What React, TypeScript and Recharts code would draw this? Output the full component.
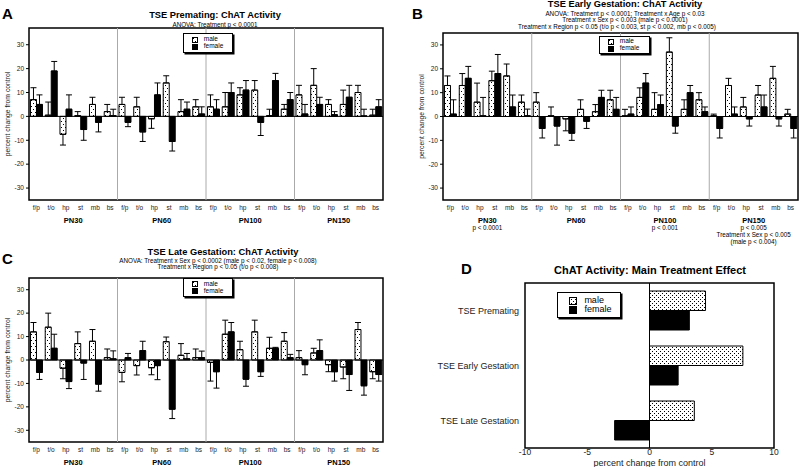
import React from 'react';
import { BarChart, Bar, XAxis, YAxis, ErrorBar, ReferenceLine, ReferenceArea } from 'recharts';

const regions = ['f/p', 't/o', 'hp', 'st', 'mb', 'bs'];
const ages = ['PN30', 'PN60', 'PN100', 'PN150'];
const ageCenters = [3, 9, 15, 21];
const ageBounds = [6, 12, 18];
const yTicks = [-30, -20, -10, 0, 10, 20, 30];

// A: premating (value, SE) per region x age
const premMale = [7, 0.5, -7.5, 0.3, 5, 2, 5, 4, -1, 14, 2, 4, 4, 4, 9, 11, 0.3, 3, 9, 13, 5, 5, 10, 0.5];
const premMaleSE = [5, 5.5, 4.5, 1.7, 3, 3, 3, 4, 4, 3, 5, 3, 5, 6, 3, 4, 2.7, 2, 4, 7, 2, 6, 3, 2.5];
const premFemale = [5, 19, 3, -5.5, -2.5, 0.3, -2.5, -6.5, 9, -10.5, 3, 1, 3, 10, 11, -2.5, 15, 7, 1, 5, 0.7, 8, 0.2, 4];
const premFemaleSE = [4, 4, 6, 4.5, 4, 2.7, 1.8, 4, 5, 4, 3, 3, 4, 4, 4, 5.5, 3, 3, 4, 3, 1.3, 5, 2.8, 3];

// B: early gestation
const earlyMale = [13, 13, 6, 15, 17, 6, 6, 0.3, -1, 3, 2, 7, 0.3, 8, 3, 27, 3, 7, 0.3, 13, 4, 9, 16, 1];
const earlyMaleSE = [4, 5, 8, 4, 5, 3, 4, 3.7, 5, 4, 3, 4, 2.7, 4, 7, 6, 4, 3, 0.7, 3, 4, 4, 5, 2];
const earlyFemale = [1, 16, 0.3, 18, 4, 0.3, -5, -4, -7, -2, 8, 3, 1, 14, 5, -4, 10, 2, -5, 1, -1, 4, -1, -5];
const earlyFemaleSE = [6, 5, 7.7, 8, 5, 2.8, 4, 8, 3, 3, 3, 5, 3, 4, 4, 3, 3, 2, 4, 3, 3, 5, 3, 4];
const earlyNotes = [['p < 0.0001'], [], ['p < 0.001'], ['p < 0.005', 'Treatment x Sex p < 0.005', '(male p < 0.004)']];

// C: late gestation
const lateMale = [12, 14, -3.5, 7, 8, 1, -5.3, -2.4, -3.3, 7.8, 2, 1, -1, 11, 4.4, 12, 5, 8, 1, 3, -2, -3, 13, -5];
const lateMaleSE = [4, 6, 4.5, 5, 5, 3.7, 4, 4, 3, 2, 5, 3.7, 8, 6, 3.6, 5, 4.7, 3.7, 3, 2, 3, 5, 3, 3];
const lateFemale = [-5.3, 5, -9.2, -1.3, -10.3, 0.5, 1, 4, -2.4, -21, 0.5, 1, -5, 12, -8.2, -5, 5, 1, -2, 4, -5, -6.2, -11, -6.2];
const lateFemaleSE = [3, 6, 3, 7, 3, 3.4, 1.8, 4, 6, 4, 2.3, 2.8, 7, 4, 3, 2, 0.4, 1.4, 4.3, 4.6, 4, 6.8, 4, 2.8];

// D: main treatment effect
const treatments = ['TSE Premating', 'TSE Early Gestation', 'TSE Late Gestation'];
const mainMale = [4.5, 7.5, 3.6];
const mainFemale = [3.2, 2.3, -2.8];
const mainTicks = [-10, -5, 0, 5, 10];

const FONT = 'Helvetica, Arial, "Liberation Sans", sans-serif';

const oneSided = (v: number, se: number) => (v >= 0 ? [0, se] : [se, 0]);

function buildRows(male: number[], maleSE: number[], female: number[], femaleSE: number[]) {
  return male.map((m, i) => ({
    idx: i,
    male: m,
    maleErr: oneSided(m, maleSE[i]),
    female: female[i],
    femaleErr: oneSided(female[i], femaleSE[i]),
  }));
}

const AgeTick = ({ x, y, payload, notes }: any) => {
  const i = ageCenters.indexOf(payload.value);
  const lines: string[] = notes ? notes[i] : [];
  return (
    <g>
      <text x={x} y={y + 10.5} textAnchor="middle" fontSize={7.5} fontWeight="bold" fill="#000">{ages[i]}</text>
      {lines.map((l, k) => (
        <text key={k} x={x} y={y + 18 + k * 7} textAnchor="middle" fontSize={6.3} fill="#000">{l}</text>
      ))}
    </g>
  );
};

const TreatTick = ({ x, y, payload }: any) => (
  <text x={x} y={y} dy="0.35em" textAnchor="end" fontSize={9} fill="#222">{payload.value}</text>
);

function SexLegend({ left, top, width, height, fill, sq, fontSize }: any) {
  const row = (f: string, label: string) => (
    <div style={{ display: 'flex', alignItems: 'center', height: sq + 1, lineHeight: 1 }}>
      <svg width={sq} height={sq} style={{ marginRight: sq * 0.9, display: 'block' }}>
        <rect x={0.5} y={0.5} width={sq - 1} height={sq - 1} fill={f} stroke="#000" strokeWidth={1} />
      </svg>
      <span style={{ fontSize }}>{label}</span>
    </div>
  );
  return (
    <div style={{
      position: 'absolute', left, top, width, height, background: '#fff', border: '1px solid #000',
      boxShadow: '1.5px 1.5px 0 #000', boxSizing: 'border-box', display: 'flex', flexDirection: 'column',
      justifyContent: 'center', paddingLeft: sq * 1.4,
    }}>
      {row(fill, 'male')}
      {row('#000', 'female')}
    </div>
  );
}

function Label({ left, top, width, text, size, bold }: any) {
  return (
    <div style={{ position: 'absolute', left, top, width, textAlign: 'center', fontSize: size, fontWeight: bold ? 'bold' : 'normal', lineHeight: 1, whiteSpace: 'nowrap' }}>
      {text}
    </div>
  );
}

function RegionPanel({ left, top, width, height, marginTop, marginRight, yWidth, domain, rows, notes, ageHeight }: any) {
  return (
    <div style={{ position: 'absolute', left, top }}>
      <BarChart width={width} height={height} data={rows} margin={{ top: marginTop, right: marginRight, left: 0, bottom: 0 }}
        barCategoryGap="10%" barGap={0}>
        <XAxis xAxisId="a1" dataKey="idx" type="category" interval={0} height={12}
          tickFormatter={(i: number) => regions[i % 6]} tick={{ fontSize: 6.5, fill: '#222' }}
          tickLine={false} axisLine={false} tickSize={3} tickMargin={2} />
        <XAxis xAxisId="z9" dataKey="idx" type="number" domain={[0, 24]} allowDataOverflow height={ageHeight}
          ticks={ageCenters} interval={0} tickLine={false} axisLine={false} tickSize={0} tickMargin={0}
          tick={(p: any) => <AgeTick {...p} notes={notes} />} />
        <YAxis domain={domain} ticks={yTicks} width={yWidth} tickSize={3} tickMargin={2} allowDataOverflow
          axisLine={false} tick={{ fontSize: 6.5, fill: '#222' }} tickLine={{ stroke: '#000' }}
          label={{ value: 'percent change from control', angle: -90, position: 'insideLeft', offset: yWidth - 21, style: { textAnchor: 'middle', fontSize: 6.8, fill: '#222' } }} />
        {ageBounds.map(b => (
          <ReferenceLine key={b} xAxisId="z9" x={b} stroke="#aaa" strokeWidth={1} />
        ))}
        <Bar xAxisId="a1" dataKey="male" fill="url(#dotsA)" stroke="#000" strokeWidth={1} isAnimationActive={false}>
          <ErrorBar dataKey="maleErr" width={3} stroke="#000" strokeWidth={1} direction="y" />
        </Bar>
        <Bar xAxisId="a1" dataKey="female" fill="#000" stroke="#000" strokeWidth={1} isAnimationActive={false}>
          <ErrorBar dataKey="femaleErr" width={3} stroke="#000" strokeWidth={1} direction="y" />
        </Bar>
        <ReferenceLine xAxisId="z9" y={0} stroke="#000" strokeWidth={1} />
        <ReferenceArea xAxisId="z9" x1={0} x2={24} fill="none" stroke="#000" strokeWidth={1.5} />
      </BarChart>
    </div>
  );
}

export default function App() {
  const rowsA = buildRows(premMale, premMaleSE, premFemale, premFemaleSE);
  const rowsB = buildRows(earlyMale, earlyMaleSE, earlyFemale, earlyFemaleSE);
  const rowsC = buildRows(lateMale, lateMaleSE, lateFemale, lateFemaleSE);
  const rowsD = treatments.map((t, i) => ({ name: t, male: mainMale[i], female: mainFemale[i] }));

  return (
    <div style={{ position: 'absolute', left: 0, top: 0, width: 800, height: 467, background: '#fff', fontFamily: FONT, color: '#000', overflow: 'hidden' }}>
      <svg width={0} height={0} style={{ position: 'absolute' }}>
        <defs>
          <pattern id="dotsA" width={4} height={6} patternUnits="userSpaceOnUse">
            <rect width={4} height={6} fill="#fff" />
            <rect x={1} y={1} width={1} height={1} fill="#000" />
            <rect x={3} y={4} width={1} height={1} fill="#000" />
          </pattern>
          <pattern id="dotsD" width={4} height={4} patternUnits="userSpaceOnUse">
            <rect width={4} height={4} fill="#fff" />
            <rect x={0} y={0} width={1} height={1} fill="#000" />
            <rect x={2} y={2} width={1} height={1} fill="#000" />
          </pattern>
        </defs>
      </svg>

      {/* A */}
      <div style={{ position: 'absolute', left: 2, top: 5, fontSize: 15, fontWeight: 'bold' }}>A</div>
      <Label left={115} top={11} width={200} text="TSE Premating:  ChAT Activity" size={9.3} bold />
      <Label left={115} top={22} width={200} text="ANOVA: Treatment p < 0.0001" size={6.3} />
      <RegionPanel left={0} top={0} width={400} height={235} marginTop={28} marginRight={17} yWidth={29} domain={[-35, 37]} rows={rowsA} ageHeight={23} />
      <SexLegend left={183} top={33} width={50} height={20} fill="url(#dotsA)" sq={6} fontSize={6.5} />

      {/* B */}
      <div style={{ position: 'absolute', left: 412, top: 5, fontSize: 15, fontWeight: 'bold' }}>B</div>
      <Label left={525} top={0} width={200} text="TSE Early Gestation:  ChAT Activity" size={9.3} bold />
      <Label left={525} top={10.5} width={200} text="ANOVA: Treatment p < 0.0001; Treatment x Age p < 0.03" size={6.3} />
      <Label left={525} top={17} width={200} text="Treatment x Sex p < 0.003 (male p < 0.0001)" size={6.3} />
      <Label left={517} top={24} width={200} text="Treatment x Region p < 0.05 (t/o p < 0.003, st p < 0.002, mb p < 0.005)" size={6.3} />
      <RegionPanel left={400} top={0} width={400} height={252} marginTop={33} marginRight={2} yWidth={43} domain={[-35, 35]} rows={rowsB} notes={earlyNotes} ageHeight={40} />
      <SexLegend left={599} top={36} width={51} height={18} fill="url(#dotsA)" sq={6} fontSize={6.5} />

      {/* C */}
      <div style={{ position: 'absolute', left: 2, top: 250, fontSize: 15, fontWeight: 'bold' }}>C</div>
      <Label left={123} top={248} width={200} text="TSE Late Gestation:  ChAT Activity" size={9.3} bold />
      <Label left={118} top={258} width={200} text="ANOVA: Treatment x Sex p < 0.0002 (male p < 0.02, female p < 0.008)" size={6.3} />
      <Label left={118} top={264} width={200} text="Treatment x Region p < 0.05 (t/o p < 0.008)" size={6.3} />
      <RegionPanel left={0} top={240} width={400} height={227} marginTop={38} marginRight={17} yWidth={29} domain={[-35, 35]} rows={rowsC} ageHeight={13} />
      <SexLegend left={183} top={278} width={50} height={19} fill="url(#dotsA)" sq={6} fontSize={6.5} />

      {/* D */}
      <div style={{ position: 'absolute', left: 461, top: 260, fontSize: 15, fontWeight: 'bold' }}>D</div>
      <Label left={550} top={265} width={200} text="ChAT Activity: Main Treatment Effect" size={11} bold />
      <div style={{ position: 'absolute', left: 400, top: 255 }}>
        <BarChart width={400} height={212} data={rowsD} layout="vertical" margin={{ top: 28, right: 26, left: 0, bottom: 0 }}
          barGap={0} barSize={19.5}>
          <XAxis type="number" domain={[-10, 10]} ticks={mainTicks} height={19} tickLine={false} axisLine={false}
            tickSize={0} tickMargin={1} tick={{ fontSize: 8.5, fill: '#222' }}
            label={{ value: 'percent change from control', position: 'insideBottom', offset: 1, style: { fontSize: 9, fill: '#222' } }} />
          <YAxis type="category" dataKey="name" width={125} tickLine={false} axisLine={false} tickSize={6} tickMargin={0}
            tick={TreatTick} />
          <Bar dataKey="male" fill="url(#dotsD)" stroke="#000" strokeWidth={1} isAnimationActive={false} />
          <Bar dataKey="female" fill="#000" stroke="#000" strokeWidth={1} isAnimationActive={false} />
          <ReferenceLine x={0} stroke="#000" strokeWidth={1} />
          <ReferenceArea x1={-10} x2={10} fill="none" stroke="#000" strokeWidth={1.5} />
        </BarChart>
      </div>
      <SexLegend left={557} top={292} width={64} height={26} fill="url(#dotsD)" sq={8} fontSize={9} />
    </div>
  );
}
